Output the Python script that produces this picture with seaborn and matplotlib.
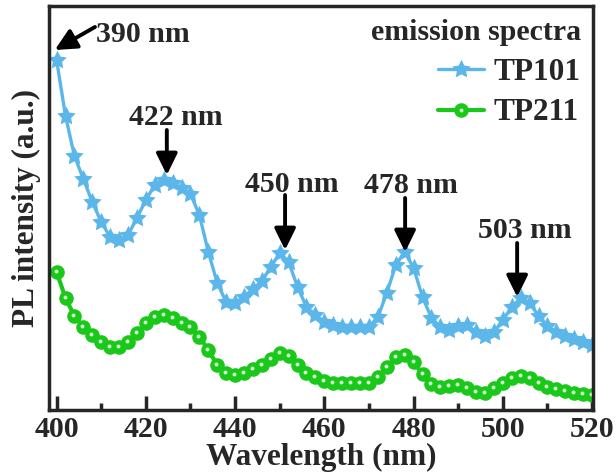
import matplotlib
matplotlib.use("Agg")
import matplotlib.pyplot as plt
import numpy as np
import seaborn as sns
from matplotlib.legend_handler import HandlerTuple
from matplotlib.lines import Line2D
from matplotlib.ticker import MultipleLocator

sns.set_style("ticks")
plt.rcParams["font.family"] = ["Liberation Serif", "DejaVu Serif"]
plt.rcParams["font.weight"] = "bold"
plt.rcParams["axes.labelweight"] = "bold"

# wavelength grid (nm), one sample every 2 nm
wavelength = list(range(400, 521, 2))

tp101 = [350, 294, 254, 231, 208, 188, 173, 170, 175, 192,
         210, 225, 230, 227, 222, 216, 195, 158, 127, 108,
         107, 113, 121, 129, 143, 157, 148, 123, 103, 95,
         88, 85, 83, 83, 83, 83, 93, 117, 145, 158,
         142, 113, 92, 83, 80, 84, 85, 78, 74, 78,
         90, 103, 112, 107, 94, 84, 78, 74, 71, 68, 65]

tp211 = [138, 112, 94, 83, 75, 68, 63, 63, 68, 77,
         87, 93, 95, 92, 87, 83, 73, 60, 45, 37,
         35, 37, 41, 45, 51, 57, 54, 45, 37, 33,
         29, 27, 27, 27, 27, 27, 33, 43, 53, 55,
         48, 36, 26, 23, 24, 25, 22, 18, 17, 22,
         27, 32, 34, 32, 27, 23, 21, 19, 17, 16, 15]

# peak labels: text, text position, arrow tail, arrow tip
peak_labels = ["390 nm", "422 nm", "450 nm", "478 nm", "503 nm"]
label_xy = [(419.4, 368), (426.8, 285), (452.8, 218), (479.4, 217), (505.0, 172)]
arrow_from = [(408.6, 383), (424.7, 280), (451.2, 215), (478.1, 212), (503.2, 167)]
arrow_to = [(399.6, 360), (424.7, 235), (451.2, 160), (478.1, 158), (503.2, 113)]

blue = "#5bb6ea"
green = "#1ac81a"
shine = "#d8f8d8"

fig, ax = plt.subplots(figsize=(6.16, 4.75))
fig.subplots_adjust(left=49 / 616, right=593 / 616, top=1 - 6 / 475, bottom=1 - 410 / 475)

sns.lineplot(x=wavelength, y=tp101, ax=ax, color=blue, lw=2.4, marker=(5, 1, 0),
             markersize=14, markeredgewidth=0, label="TP101")
sns.lineplot(x=wavelength, y=tp211, ax=ax, color=green, lw=3, marker="o",
             markersize=10.5, markeredgewidth=0, label="TP211")
star_line, ball_line = ax.lines[0], ax.lines[1]

# small highlight on each ball, nudged up-left
shift = matplotlib.transforms.ScaledTranslation(-1 / 100, 1.5 / 100, fig.dpi_scale_trans)
ax.plot(wavelength, tp211, ls="none", marker="o", markersize=2.8,
        color=shine, markeredgewidth=0, transform=ax.transData + shift)

for text, pos, start, end in zip(peak_labels, label_xy, arrow_from, arrow_to):
    ax.text(pos[0], pos[1], text, ha="center", va="baseline", fontsize=21.5)
    ax.annotate("", xy=end, xytext=start,
                arrowprops=dict(arrowstyle="-|>,head_width=0.32,head_length=0.65",
                                lw=2.8, color="black", mutation_scale=20,
                                shrinkA=0, shrinkB=0))

ax.set_xlim(398.3, 520.2)
ax.set_ylim(0, 404)
ax.set_yticks([])
ax.xaxis.set_major_locator(MultipleLocator(20))
ax.xaxis.set_minor_locator(MultipleLocator(10))
ax.tick_params(axis="x", which="major", direction="in", length=10, width=2.5,
               labelsize=21.5, pad=4)
ax.tick_params(axis="x", which="minor", direction="in", length=5, width=2.5)
for spine in ax.spines.values():
    spine.set_linewidth(2.5)
    spine.set_visible(True)

ax.set_xlabel("Wavelength (nm)", fontsize=22.5, labelpad=0)
ax.set_ylabel("PL intensity (a.u.)", fontsize=22.5, labelpad=6)

dot = Line2D([], [], ls="none", marker="o", markersize=2.8, color=shine,
             markeredgewidth=0)
handles = [star_line, (ball_line, dot)]
labels = ["TP101", "TP211"]
ax.legend(handles, labels, title="emission spectra", loc="upper right",
          bbox_to_anchor=(1.012, 1.015), frameon=False, alignment="right",
          fontsize=22.5, title_fontproperties={"weight": "bold", "size": 21.5},
          handlelength=1.5, handletextpad=0.3, labelspacing=0.38, borderaxespad=0.2,
          handler_map={tuple: HandlerTuple(ndivide=1, pad=0)})

fig.savefig("out.png", dpi=100)
